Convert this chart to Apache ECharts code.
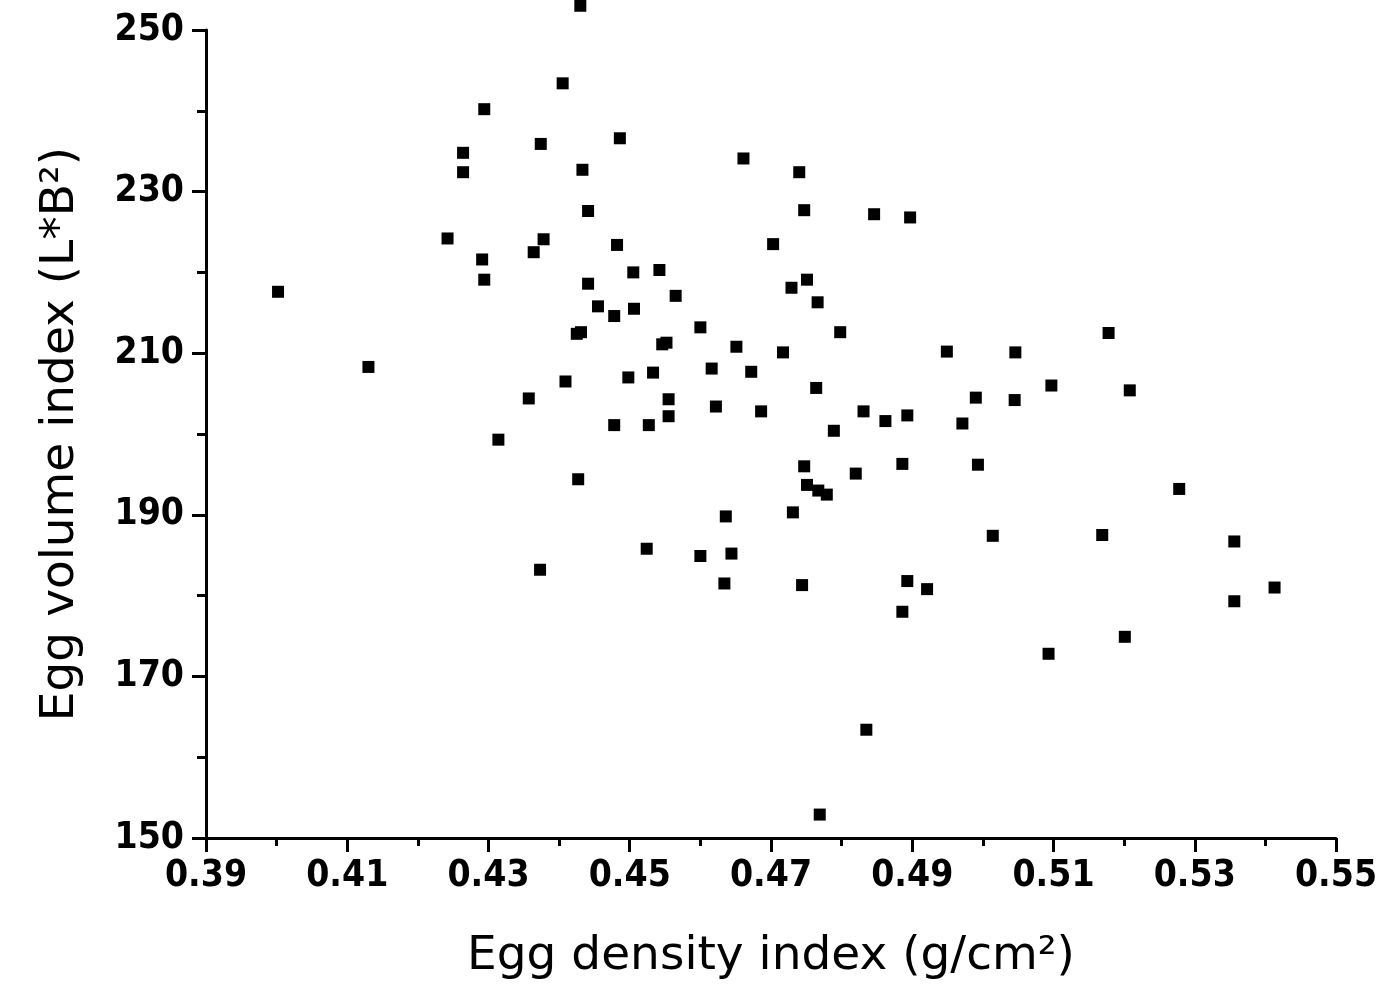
<!DOCTYPE html>
<html>
<head>
<meta charset="utf-8">
<script src="https://cdn.jsdelivr.net/npm/echarts@6/dist/echarts.min.js"></script>
<style>
html,body{margin:0;padding:0;background:#fff;}
#chart{width:1400px;height:985px;}
</style>
</head>
<body>
<div id="chart"></div>
<script>
// Egg density index (g/cm²)
var density = [
  0.4002, 0.4130, 0.4242, 0.4264, 0.4264, 0.4294, 0.4291, 0.4294, 0.4314, 0.4357,
  0.4364, 0.4378, 0.4374, 0.4373, 0.4405, 0.4409, 0.4430, 0.4433, 0.4425, 0.4431,
  0.4427, 0.4441, 0.4441, 0.4455, 0.4478, 0.4486, 0.4482, 0.4478, 0.4498, 0.4505,
  0.4506, 0.4524, 0.4527, 0.4533, 0.4542, 0.4546, 0.4552, 0.4555, 0.4555, 0.4565,
  0.4600, 0.4600, 0.4616, 0.4622, 0.4634, 0.4636, 0.4644, 0.4651, 0.4661, 0.4672,
  0.4686, 0.4703, 0.4717, 0.4729, 0.4731, 0.4740, 0.4744, 0.4747, 0.4747, 0.4751,
  0.4751, 0.4764, 0.4766, 0.4767, 0.4779, 0.4769, 0.4789, 0.4798, 0.4820, 0.4831,
  0.4835, 0.4846, 0.4862, 0.4886, 0.4886, 0.4893, 0.4893, 0.4897, 0.4921, 0.4949,
  0.4971, 0.4990, 0.4993, 0.5014, 0.5045, 0.5046, 0.5093, 0.5097, 0.5169, 0.5178,
  0.5201, 0.5208, 0.5278, 0.5356, 0.5356, 0.5413
];
// Egg volume index (L*B²)
var volume = [
  217.6, 208.3, 224.2, 234.8, 232.4, 240.2, 221.6, 219.1, 199.3, 204.4,
  222.5, 224.1, 235.9, 183.2, 243.4, 206.5, 253.0, 232.7, 212.4, 212.6,
  194.4, 227.6, 218.6, 215.8, 214.6, 236.6, 223.4, 201.1, 207.0, 220.0,
  215.5, 185.8, 201.1, 207.6, 220.3, 211.1, 211.3, 204.3, 202.2, 217.1,
  213.2, 184.9, 208.1, 203.4, 181.5, 189.8, 185.2, 210.8, 234.1, 207.7,
  202.8, 223.5, 210.1, 218.1, 190.3, 232.4, 181.3, 227.7, 196.0, 219.1,
  193.7, 205.7, 216.3, 193.0, 192.5, 152.9, 200.4, 212.6, 195.1, 202.8,
  163.4, 227.2, 201.6, 196.3, 178.0, 202.3, 181.8, 226.8, 180.8, 210.2,
  201.3, 204.5, 196.2, 187.4, 204.2, 210.1, 172.8, 206.0, 187.5, 212.5,
  174.9, 205.4, 193.2, 186.7, 179.3, 181.0
];
var xTicks = [0.39, 0.41, 0.43, 0.45, 0.47, 0.49, 0.51, 0.53, 0.55];
var yTicks = [150, 170, 190, 210, 230, 250];

var points = density.map(function (d, i) { return [d, volume[i]]; });

var labelFont = "'DejaVu Sans Condensed', 'Liberation Sans Narrow', 'DejaVu Sans', sans-serif";
var titleFont = "'DejaVu Sans', sans-serif";

var chart = echarts.init(document.getElementById('chart'), null, {renderer: 'canvas'});
chart.setOption({
  animation: false,
  backgroundColor: '#ffffff',
  grid: {left: 206, top: 30, right: 64, bottom: 147, containLabel: false},
  xAxis: {
    type: 'value',
    min: xTicks[0], max: xTicks[xTicks.length - 1], interval: 0.02,
    name: 'Egg density index (g/cm²)',
    nameLocation: 'middle', nameGap: 95,
    nameTextStyle: {fontFamily: titleFont, fontSize: 47, color: '#000'},
    axisLine: {show: true, onZero: false, lineStyle: {color: '#000', width: 3}},
    axisTick: {show: true, inside: false, length: 14, lineStyle: {color: '#000', width: 3}},
    minorTick: {show: true, splitNumber: 2, length: 8, lineStyle: {color: '#000', width: 3}},
    splitLine: {show: false},
    axisLabel: {
      margin: 20, color: '#000', fontFamily: labelFont, fontWeight: 'bold', fontSize: 37,
      formatter: function (v) { return v.toFixed(2); }
    }
  },
  yAxis: {
    type: 'value',
    min: yTicks[0], max: yTicks[yTicks.length - 1], interval: 20,
    name: 'Egg volume index (L*B²)',
    nameLocation: 'middle', nameGap: 122,
    nameTextStyle: {fontFamily: titleFont, fontSize: 47, color: '#000'},
    axisLine: {show: true, onZero: false, lineStyle: {color: '#000', width: 3}},
    axisTick: {show: true, inside: false, length: 14, lineStyle: {color: '#000', width: 3}},
    minorTick: {show: true, splitNumber: 2, length: 9, lineStyle: {color: '#000', width: 3}},
    splitLine: {show: false},
    axisLabel: {
      margin: 22, color: '#000', fontFamily: labelFont, fontWeight: 'bold', fontSize: 37
    }
  },
  series: [{
    type: 'scatter',
    data: points,
    symbol: 'rect',
    symbolSize: 12,
    clip: false,
    itemStyle: {color: '#000', opacity: 1}
  }]
});
</script>
</body>
</html>
